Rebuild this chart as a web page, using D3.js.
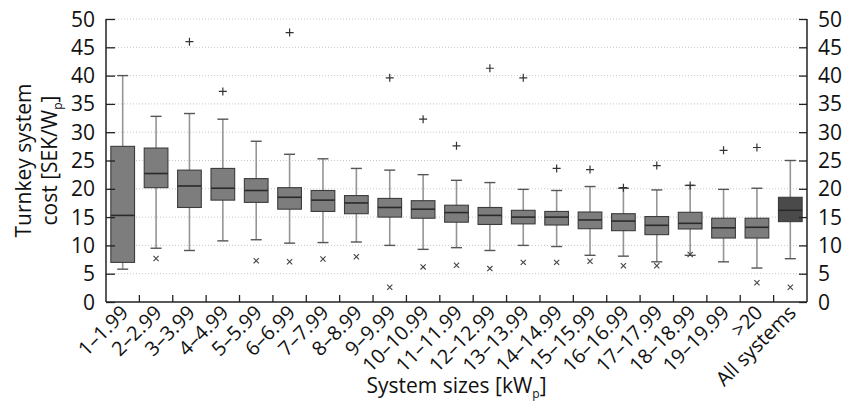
<!DOCTYPE html>
<html>
<head>
<meta charset="utf-8">
<script src="https://cdn.jsdelivr.net/npm/d3@7"></script>
<style>
  body { margin: 0; background: #fff; }
  svg text { font-family: "Open Sans", sans-serif; fill: #111; }
</style>
</head>
<body>
<div id="chart"></div>
<script>
const categories = ["1–1.99", "2–2.99", "3–3.99", "4–4.99", "5–5.99", "6–6.99", "7–7.99",
  "8–8.99", "9–9.99", "10–10.99", "11–11.99", "12–12.99", "13–13.99", "14–14.99",
  "15–15.99", "16–16.99", "17–17.99", "18–18.99", "19–19.99", ">20", "All systems"];
const whiskerLow  = [5.8, 9.5, 9.1, 10.8, 11.0, 10.4, 10.5, 10.6, 10.0, 9.3, 9.6, 9.1, 10.0, 9.8, 8.25, 8.1, 7.1, 8.25, 7.1, 6.0, 7.65];
const q1          = [7.0, 20.2, 16.7, 18.0, 17.6, 16.4, 16.0, 15.6, 15.0, 14.8, 14.1, 13.7, 13.8, 13.6, 12.95, 12.6, 11.9, 12.9, 11.3, 11.3, 14.2];
const medians     = [15.3, 22.7, 20.5, 20.1, 19.7, 18.5, 18.0, 17.5, 16.7, 16.4, 15.8, 15.3, 15.0, 15.0, 14.5, 14.3, 13.55, 13.9, 13.1, 13.2, 16.2];
const q3          = [27.5, 27.2, 23.3, 23.6, 21.8, 20.2, 19.7, 18.8, 18.3, 17.9, 17.1, 16.7, 16.2, 16.0, 15.9, 15.6, 15.1, 15.85, 14.8, 14.8, 18.5];
const whiskerHigh = [40.0, 32.8, 33.3, 32.3, 28.4, 26.1, 25.3, 23.6, 23.3, 22.5, 21.5, 21.1, 19.9, 19.7, 20.4, 20.1, 19.8, 20.6, 19.9, 20.1, 25.0];
const maxMarks    = [null, null, 46.0, 37.2, null, 47.6, null, null, 39.6, 32.3, 27.6, 41.3, 39.6, 23.6, 23.4, 20.2, 24.1, 20.6, 26.8, 27.3, null];
const minMarks    = [null, 7.7, null, null, 7.3, 7.1, 7.6, 8.0, 2.6, 6.2, 6.5, 5.9, 7.0, 7.0, 7.2, 6.4, 6.4, 8.4, null, 3.4, 2.6];
const yTicks = [0, 5, 10, 15, 20, 25, 30, 35, 40, 45, 50];

const width = 843, height = 403;
const margin = { top: 19, right: 36, bottom: 101, left: 106 };

const svg = d3.select("#chart").append("svg")
  .attr("width", width).attr("height", height);

const x = d3.scaleBand()
  .domain(categories)
  .range([margin.left, width - margin.right])
  .paddingInner(0.29).paddingOuter(0.145);
const y = d3.scaleLinear().domain([0, 50]).range([height - margin.bottom, margin.top]);

const step = x.step();
const x0 = margin.left, x1 = width - margin.right;
const rows = categories.map((c, i) => ({
  c, i, lo: whiskerLow[i], q1: q1[i], med: medians[i], q3: q3[i], hi: whiskerHigh[i],
  max: maxMarks[i], min: minMarks[i]
}));

// dotted grid
svg.append("g")
  .selectAll("line")
  .data(yTicks.filter(d => d > 0))
  .join("line")
  .attr("x1", x0).attr("x2", x1)
  .attr("y1", d => y(d)).attr("y2", d => y(d))
  .attr("stroke", "#c8c8c8")
  .attr("stroke-width", 1)
  .attr("stroke-dasharray", "1,2");

// boxes
const g = svg.append("g");
const cx = d => x(d.c) + x.bandwidth() / 2;
const capW = 11;

g.selectAll(".whisker")
  .data(rows)
  .join("line")
  .attr("x1", cx).attr("x2", cx)
  .attr("y1", d => y(d.lo)).attr("y2", d => y(d.hi))
  .attr("stroke", "#959595").attr("stroke-width", 1.6);

g.selectAll(".capHi")
  .data(rows)
  .join("line")
  .attr("x1", d => cx(d) - capW / 2).attr("x2", d => cx(d) + capW / 2)
  .attr("y1", d => y(d.hi)).attr("y2", d => y(d.hi))
  .attr("stroke", "#555").attr("stroke-width", 1.4);

g.selectAll(".capLo")
  .data(rows)
  .join("line")
  .attr("x1", d => cx(d) - capW / 2).attr("x2", d => cx(d) + capW / 2)
  .attr("y1", d => y(d.lo)).attr("y2", d => y(d.lo))
  .attr("stroke", "#555").attr("stroke-width", 1.4);

g.selectAll(".box")
  .data(rows)
  .join("rect")
  .attr("x", d => x(d.c))
  .attr("width", x.bandwidth())
  .attr("y", d => y(d.q3))
  .attr("height", d => y(d.q1) - y(d.q3))
  .attr("fill", d => d.c === "All systems" ? "#4a4a4a" : "#7d7d7d")
  .attr("stroke", "#3c3c3c").attr("stroke-width", 1.1);

g.selectAll(".median")
  .data(rows)
  .join("line")
  .attr("x1", d => x(d.c)).attr("x2", d => x(d.c) + x.bandwidth())
  .attr("y1", d => y(d.med)).attr("y2", d => y(d.med))
  .attr("stroke", "#2a2a2a").attr("stroke-width", 1.6);

// max (+) and min (x) markers
const plus = 4;
g.selectAll(".max")
  .data(rows.filter(d => d.max != null))
  .join("path")
  .attr("d", d => {
    const px = cx(d), py = y(d.max);
    return `M${px - plus},${py}H${px + plus}M${px},${py - plus}V${py + plus}`;
  })
  .attr("stroke", "#333").attr("stroke-width", 1.2).attr("fill", "none");

const tim = 2.6;
g.selectAll(".min")
  .data(rows.filter(d => d.min != null))
  .join("path")
  .attr("d", d => {
    const px = cx(d), py = y(d.min);
    return `M${px - tim},${py - tim}L${px + tim},${py + tim}M${px - tim},${py + tim}L${px + tim},${py - tim}`;
  })
  .attr("stroke", "#444").attr("stroke-width", 1.1).attr("fill", "none");

// axes
const axisColor = "#222";
const yLeft = svg.append("g")
  .attr("transform", `translate(${x0},0)`)
  .call(d3.axisRight(y).tickValues(yTicks).tickSize(9).tickFormat(""));
const yRight = svg.append("g")
  .attr("transform", `translate(${x1},0)`)
  .call(d3.axisLeft(y).tickValues(yTicks).tickSize(8).tickFormat(""));
[yLeft, yRight].forEach(a => {
  a.select(".domain").remove();
  a.selectAll("line").attr("stroke", axisColor).attr("stroke-width", 1.3);
});
svg.append("line")
  .attr("x1", x0).attr("x2", x0).attr("y1", y(0)).attr("y2", y(50))
  .attr("stroke", axisColor).attr("stroke-width", 1.5);
svg.append("line")
  .attr("x1", x1).attr("x2", x1).attr("y1", y(0)).attr("y2", y(50))
  .attr("stroke", axisColor).attr("stroke-width", 1.5);
svg.append("line")
  .attr("x1", x0).attr("x2", x1).attr("y1", y(0)).attr("y2", y(0))
  .attr("stroke", axisColor).attr("stroke-width", 1.5);

// category boundary ticks
svg.append("g")
  .selectAll("line")
  .data(categories.slice(1))
  .join("line")
  .attr("x1", d => x(d) - (step - x.bandwidth()) / 2)
  .attr("x2", d => x(d) - (step - x.bandwidth()) / 2)
  .attr("y1", y(0)).attr("y2", y(0) - 7)
  .attr("stroke", axisColor).attr("stroke-width", 1.3);

// tick labels
svg.append("g")
  .selectAll("text")
  .data(yTicks)
  .join("text")
  .attr("x", x0 - 11).attr("y", d => y(d))
  .attr("dy", "0.36em")
  .attr("text-anchor", "end")
  .attr("font-size", 21)
  .text(d => d);
svg.append("g")
  .selectAll("text")
  .data(yTicks)
  .join("text")
  .attr("x", x1 + 11).attr("y", d => y(d))
  .attr("dy", "0.36em")
  .attr("text-anchor", "start")
  .attr("font-size", 21)
  .text(d => d);

svg.append("g")
  .selectAll("text")
  .data(categories)
  .join("text")
  .attr("text-anchor", "end")
  .attr("font-size", 20)
  .attr("transform", d => `translate(${x(d) + x.bandwidth() / 2 + 7},${y(0) + 12}) rotate(-45)`)
  .text(d => d);

// axis titles
const xt = svg.append("text")
  .attr("x", (x0 + x1) / 2).attr("y", 393)
  .attr("text-anchor", "middle")
  .attr("font-size", 21);
xt.append("tspan").text("System sizes [kW");
xt.append("tspan").attr("font-size", 12).attr("dy", 5).text("p");
xt.append("tspan").attr("dy", -5).text("]");

const yt = svg.append("g")
  .attr("transform", `translate(0,${(y(0) + y(50)) / 2}) rotate(-90)`);
yt.append("text")
  .attr("x", 0).attr("y", 31)
  .attr("text-anchor", "middle")
  .attr("font-size", 21)
  .text("Turnkey system");
const yt2 = yt.append("text")
  .attr("x", 0).attr("y", 57)
  .attr("text-anchor", "middle")
  .attr("font-size", 21);
yt2.append("tspan").text("cost [SEK/W");
yt2.append("tspan").attr("font-size", 12).attr("dy", 5).text("p");
yt2.append("tspan").attr("dy", -5).text("]");
</script>
</body>
</html>
